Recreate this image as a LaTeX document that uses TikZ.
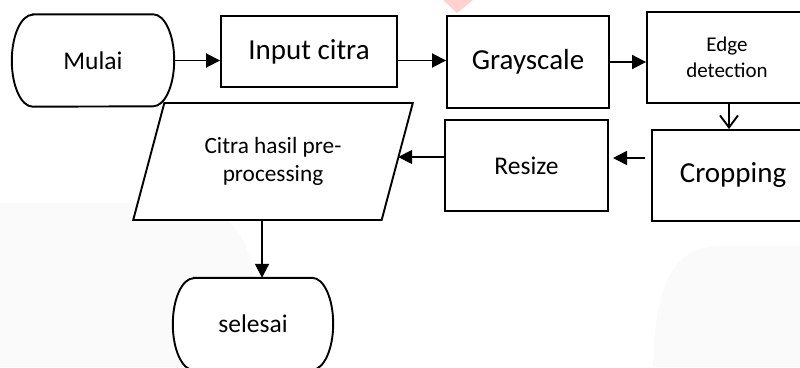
\documentclass[tikz,border=0pt]{standalone}
\usepackage{fontspec}
\setmainfont{Carlito}
\usepackage{tikz}
\usetikzlibrary{arrows.meta, positioning, calc, shapes.geometric, backgrounds}

\begin{document}
\begin{tikzpicture}[x=1pt, y=-1pt,
    box/.style={draw, fill=white, line width=1.9pt, align=center, inner sep=2pt},
    terminal/.style={align=center, minimum width=160pt, minimum height=92pt,
                     font=\fontsize{25.5}{31}\selectfont},
    io/.style={draw, fill=white, trapezium, trapezium left angle=69, trapezium right angle=111,
               trapezium stretches=true, minimum width=280pt, minimum height=117pt,
               line width=1.9pt, align=center, inner sep=2pt},
    arrow/.style={-{Triangle[length=14pt, width=14pt]}, line width=1.9pt},
    openarrow/.style={-{Straight Barb[length=12pt, width=18pt]}, line width=1.9pt},
]
\useasboundingbox (0,0) rectangle (800,367);

% --- faint watermark behind the chart ---
\begin{scope}[on background layer]
\fill[black!2] (0,367) -- (0,203) -- (175,203) .. controls (230,203) and (255,240) .. (255,300) -- (255,367) -- cycle;
\fill[black!2] (800,246) -- (720,246) .. controls (670,246) and (655,290) .. (653,367) -- (800,367) -- cycle;
\fill[red!18] (443,0) -- (473,0) -- (457,13) -- cycle;
\end{scope}

% --- Nodes: top row left to right, then back along the second row ---
\node[terminal, minimum width=162pt] (start) at (93, 60.5) {Mulai};
\node[box, minimum width=176pt, minimum height=71pt, font=\fontsize{29}{35}\selectfont] (input) at (309, 51.5) {Input citra};
\node[box, minimum width=162pt, minimum height=92pt, font=\fontsize{29}{35}\selectfont] (gray) at (528, 62) {Grayscale};
\node[box, minimum width=160pt, minimum height=91pt, font=\fontsize{21}{25.6}\selectfont] (edge) at (727, 57.5) {Edge\\detection};
\node[box, minimum width=162pt, minimum height=91pt, font=\fontsize{29}{35}\selectfont] (crop) at (733, 175.5) {Cropping};
\node[box, minimum width=163pt, minimum height=91pt, font=\fontsize{25.5}{31}\selectfont] (resize) at (526.5, 165.5) {Resize};
\node[io, font=\fontsize{23.3}{28.4}\selectfont] (out) at (273, 161.5) {Citra hasil pre-\\processing};
\node[terminal] (end) at (253, 324) {selesai};

% --- terminator outlines (elliptic ends) ---
\begin{scope}[on background layer]
\foreach \n in {start, end}
  \draw[line width=1.9pt, fill=white]
    ([xshift=21pt]\n.north west) -- ([xshift=-21pt]\n.north east)
    arc[start angle=90, end angle=-90, x radius=21pt, y radius=46pt]
    -- ([xshift=21pt]\n.south west)
    arc[start angle=270, end angle=90, x radius=21pt, y radius=46pt] -- cycle;
\end{scope}

% ===================== EDGES =====================
\draw[arrow] (start.east) -- (start.east -| input.west);
\draw[arrow] (input.east |- start.east) -- (start.east -| gray.west);
\draw[arrow] (gray.east) -- (gray.east -| edge.west);
\draw[openarrow] ([xshift=2pt]edge.south) -- ([xshift=2pt]edge.south |- crop.north);
\draw[arrow] ([shift={(-6pt,17.5pt)}]crop.west) -- ++(-32,0);
\draw[arrow] ([yshift=8.5pt]resize.west) -- ([yshift=8.5pt]resize.west -| out.east);
\draw[arrow] ([xshift=-11pt]out.south) -- ([xshift=-11pt]out.south |- end.north);

\end{tikzpicture}
\end{document}
